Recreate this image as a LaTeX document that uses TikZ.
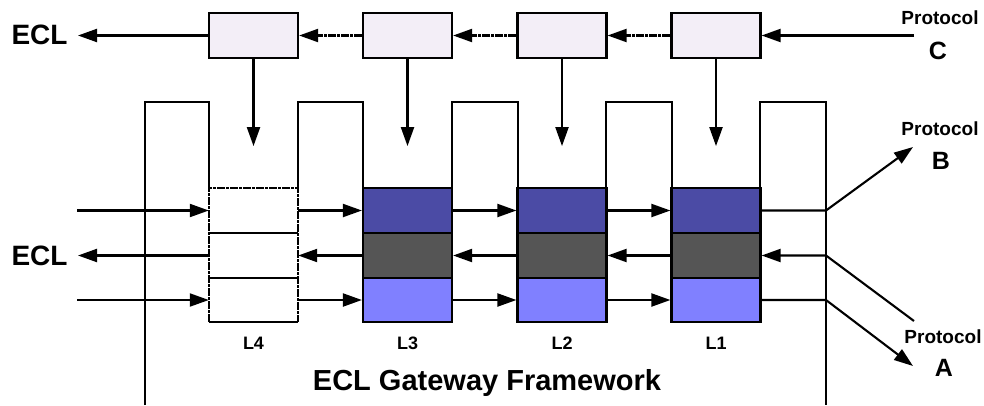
\documentclass[tikz,border=0pt]{standalone}
\usepackage{fontspec}
\setmainfont{Liberation Sans}
\usetikzlibrary{arrows.meta}
\definecolor{queuefill}{RGB}{243,238,247}
\definecolor{layerdark}{RGB}{75,75,165}
\definecolor{layergrey}{RGB}{85,85,85}
\definecolor{layerlight}{RGB}{128,128,255}
\tikzset{
  wire/.style={line width=2.1pt},
  tip/.style={-{Triangle[length=19pt,width=13pt]}},
  dotwire/.style={wire,dash pattern=on 8pt off 1pt on 3pt off 1pt},
  queue/.style={draw,line width=2.2pt,fill=queuefill,minimum width=89pt,minimum height=45pt,inner sep=0pt},
  cell/.style={draw,line width=2.2pt,minimum width=89pt,minimum height=45pt,inner sep=0pt},
  bigtext/.style={font=\fontsize{28}{30}\selectfont\bfseries,inner sep=0pt},
  titletext/.style={font=\fontsize{29}{31}\selectfont\bfseries,inner sep=0pt},
  protext/.style={font=\fontsize{19}{21}\selectfont\bfseries,inner sep=0pt},
  lettext/.style={font=\fontsize{25}{27}\selectfont\bfseries,inner sep=0pt},
  layertext/.style={font=\fontsize{18}{20}\selectfont\bfseries,inner sep=0pt}
}
\begin{document}
\begin{tikzpicture}[x=1pt,y=-1pt]
\useasboundingbox (0,0) rectangle (984,405);

% queue boxes on top
\node[queue] (t4) at (253.5,35.5) {};
\node[queue] (t3) at (407.5,35.5) {};
\node[queue] (t2) at (562,35.5) {};
\node[queue] (t1) at (716,35.5) {};

% framework comb outline
\draw[wire] (145,405) -- (145,102) -- (209,102) -- (209,188);
\draw[wire] (298,188) -- (298,102) -- (363,102) -- (363,322) -- (452,322)
  -- (452,102) -- (518,102) -- (518,322) -- (606,322) -- (606,102)
  -- (672,102) -- (672,322) -- (760,322) -- (760,102) -- (826,102) -- (826,405);

% layer L4 (empty, dashed frame)
\node[inner sep=0pt,minimum width=89pt,minimum height=45pt] (c41) at (253.5,210.5) {};
\node[inner sep=0pt,minimum width=89pt,minimum height=45pt] (c42) at (253.5,255.5) {};
\node[inner sep=0pt,minimum width=89pt,minimum height=44pt] (c43) at (253.5,300) {};
\draw[dotwire] (c43.south west) -- (c41.north west) -- (c41.north east) -- (c43.south east);
\draw[wire] (c41.south west) -- (c41.south east);
\draw[wire] (c42.south west) -- (c42.south east);
\draw[wire] (c43.south west) -- (c43.south east);

% layers L3, L2, L1
\foreach \n/\x in {3/407.5,2/562,1/716}{
  \node[cell,fill=layerdark] (c\n1) at (\x,210.5) {};
  \node[cell,fill=layergrey] (c\n2) at (\x,255.5) {};
  \node[cell,fill=layerlight,minimum height=44pt] (c\n3) at (\x,300) {};
}

% texts
\node[bigtext] (eclt) at (39.5,35) {ECL};
\node[bigtext] (eclm) at (39.5,256) {ECL};
\node[protext] (pc) at (940,18) {Protocol};
\node[lettext] (lc) at (938,51) {C};
\node[protext] (pb) at (940,129) {Protocol};
\node[lettext] (lb) at (941,161) {B};
\node[protext] (pa) at (943,337) {Protocol};
\node[lettext] (la) at (944,368) {A};
\node[layertext] (l4) at (253.5,343) {L4};
\node[layertext] (l3) at (407.5,343) {L3};
\node[layertext] (l2) at (562,343) {L2};
\node[layertext] (l1) at (716,343) {L1};
\node[titletext] (title) at (487,383) {ECL Gateway Framework};

% top chain
\coordinate (cin) at (914,35.5);
\coordinate (eout) at (78,35.5);
\draw[wire,tip] (cin) -- (t1.east);
\draw[dotwire,tip] (t1.west) -- (t2.east);
\draw[dotwire,tip] (t2.west) -- (t3.east);
\draw[dotwire,tip] (t3.west) -- (t4.east);
\draw[wire,tip] (t4.west) -- (eout);

% feeds from the queues into the layers
\foreach \n in {4,3,2,1}{
  \draw[wire,tip] (t\n.south) -- ++(0,87);
}

% left side rows
\coordinate (in1) at (77,210.5);
\coordinate (in3) at (77,300);
\coordinate (out2) at (78,255.5);
\draw[wire,tip] (in1) -- (c41.west);
\draw[wire,tip] (c42.west) -- (out2);
\draw[wire,tip] (in3) -- (c43.west);

% rows between the layers
\foreach \a/\b in {4/3,3/2,2/1}{
  \draw[wire,tip] (c\a1.east) -- (c\b1.west);
  \draw[wire,tip] (c\b2.west) -- (c\a2.east);
  \draw[wire,tip] (c\a3.east) -- (c\b3.west);
}

% right side protocols
\coordinate (jb) at (826,210.5);
\coordinate (ja) at (826,255.5);
\coordinate (jo) at (826,300);
\coordinate (tb) at (913,147);
\coordinate (sa) at (914,321);
\coordinate (ta) at (913,366);
\draw[wire,tip] (c11.east) -- (jb) -- (tb);
\draw[wire,tip] (sa) -- (ja) -- (c12.east);
\draw[wire,tip] (c13.east) -- (jo) -- (ta);
\end{tikzpicture}
\end{document}
